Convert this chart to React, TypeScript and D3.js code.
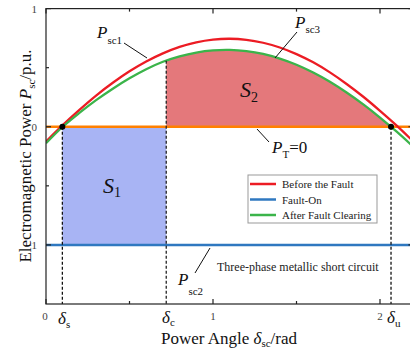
import React from "react";
import * as d3 from "d3";

const W = 410;
const H = 349;

// Power angle samples (rad)
const deltas = [0, 0.1, 0.2, 0.3, 0.4, 0.5, 0.6, 0.7, 0.8, 0.9, 1.0, 1.1, 1.2, 1.3, 1.4, 1.5, 1.6, 1.7, 1.8, 1.9, 2.0, 2.1, 2.2];
// Before the fault (Psc1)
const beforeFault = [-0.125, 0.014, 0.143, 0.264, 0.372, 0.469, 0.552, 0.621, 0.676, 0.715, 0.738, 0.745, 0.736, 0.711, 0.671, 0.615, 0.545, 0.46, 0.362, 0.254, 0.135, 0.01, -0.125];
// After fault clearing (Psc3)
const afterClearing = [-0.14, 0.0, 0.117, 0.225, 0.322, 0.41, 0.487, 0.55, 0.596, 0.628, 0.646, 0.65, 0.64, 0.616, 0.577, 0.525, 0.459, 0.381, 0.29, 0.189, 0.078, -0.042, -0.17];
// Fault-on (Psc2) and mechanical power PT
const faultOnLevel = -1;
const ptLevel = 0;
// Key angles
const deltaS = 0.098;
const deltaC = 0.72;
const deltaU = 2.066;

const xTicksMajor = [0, 1, 2];
const xTicksMinor = [0.5, 1.5];
const yTicksMajor = [-1, 0, 1];
const yTicksMinor = [-0.5, 0.5];

const legendItems = [
  { label: "Before the Fault", color: "#ec1c24" },
  { label: "Fault-On", color: "#2f78c0" },
  { label: "After Fault Clearing", color: "#3bb44a" },
];

const FONT = "'Liberation Serif', 'Times New Roman', Times, serif";

export default function App() {
  const left = 46, right = 413.4, top = 8.6, bottom = 304;
  const x = d3.scaleLinear().domain([0, 2.2]).range([left, right]);
  const y = d3.scaleLinear().domain([-1.5, 1]).range([bottom, top]);

  const redPts: [number, number][] = deltas.map((d, i) => [d, beforeFault[i]]);
  const greenPts: [number, number][] = deltas.map((d, i) => [d, afterClearing[i]]);

  const line = d3.line<[number, number]>().x((d) => x(d[0])).y((d) => y(d[1])).curve(d3.curveCatmullRom);
  const area = d3.area<[number, number]>().x((d) => x(d[0])).y0(y(0)).y1((d) => y(d[1])).curve(d3.curveCatmullRom);

  const interp = d3.scaleLinear().domain(deltas).range(afterClearing);
  const gC = interp(deltaC);

  const dash = "3,2";

  return (
    <svg width={W} height={H} style={{ position: "absolute", left: 0, top: 0, background: "#fff", fontFamily: FONT }}>
      <defs>
        <clipPath id="plot">
          <rect x={left} y={top} width={right - left} height={bottom - top} />
        </clipPath>
        <clipPath id="s2">
          <rect x={x(deltaC)} y={top} width={x(deltaU) - x(deltaC)} height={y(0) - top} />
        </clipPath>
      </defs>

      <g clipPath="url(#plot)">
        <rect x={x(deltaS)} y={y(0)} width={x(deltaC) - x(deltaS)} height={y(-1) - y(0)} fill="#a8b4f4" />
        <path d={area(greenPts) || ""} fill="#e4787b" clipPath="url(#s2)" />

        <line x1={left} x2={right} y1={y(ptLevel)} y2={y(ptLevel)} stroke="#ff8000" strokeWidth={2.5} />
        <line x1={left} x2={right} y1={y(faultOnLevel)} y2={y(faultOnLevel)} stroke="#2f78c0" strokeWidth={2.5} />

        <path d={line(redPts) || ""} fill="none" stroke="#ec1c24" strokeWidth={2.3} />
        <path d={line(greenPts) || ""} fill="none" stroke="#3bb44a" strokeWidth={2.3} />

        <line x1={x(deltaS)} x2={x(deltaS)} y1={y(0)} y2={bottom} stroke="#111" strokeWidth={1.3} strokeDasharray={dash} />
        <line x1={x(deltaC)} x2={x(deltaC)} y1={y(gC)} y2={bottom} stroke="#222" strokeWidth={1.3} strokeDasharray={dash} />
        <line x1={x(deltaU)} x2={x(deltaU)} y1={y(0)} y2={bottom} stroke="#111" strokeWidth={1.3} strokeDasharray={dash} />

        <circle cx={x(deltaS)} cy={y(0)} r={3} fill="#000" />
        <circle cx={x(deltaU)} cy={y(0)} r={3} fill="#000" />
      </g>

      <rect x={left} y={top} width={right - left} height={bottom - top} fill="none" stroke="#222" strokeWidth={1.2} />

      {xTicksMajor.map((t) => (
        <g key={"xM" + t}>
          <line x1={x(t)} x2={x(t)} y1={bottom} y2={bottom - 5} stroke="#222" strokeWidth={1.2} />
          <line x1={x(t)} x2={x(t)} y1={top} y2={top + 5} stroke="#222" strokeWidth={1.2} />
          <text x={x(t) - (t === 0 ? 1 : 0)} y={320} fontSize={11} textAnchor="middle" fill="#444">{t}</text>
        </g>
      ))}
      {xTicksMinor.map((t) => (
        <g key={"xm" + t}>
          <line x1={x(t)} x2={x(t)} y1={bottom} y2={bottom - 3} stroke="#222" strokeWidth={1.2} />
          <line x1={x(t)} x2={x(t)} y1={top} y2={top + 3} stroke="#222" strokeWidth={1.2} />
        </g>
      ))}
      {yTicksMajor.map((t) => (
        <g key={"yM" + t}>
          <line x1={left} x2={left + 5} y1={y(t)} y2={y(t)} stroke="#222" strokeWidth={1.2} />
          <line x1={right} x2={right - 5} y1={y(t)} y2={y(t)} stroke="#222" strokeWidth={1.2} />
          <text x={37} y={y(t) + 4} fontSize={11} textAnchor="end" fill="#444">{t < 0 ? "\u2212" + Math.abs(t) : t}</text>
        </g>
      ))}
      {yTicksMinor.map((t) => (
        <g key={"ym" + t}>
          <line x1={left} x2={left + 3} y1={y(t)} y2={y(t)} stroke="#222" strokeWidth={1.2} />
          <line x1={right} x2={right - 3} y1={y(t)} y2={y(t)} stroke="#222" strokeWidth={1.2} />
        </g>
      ))}

      <line x1={124} y1={43} x2={147} y2={58} stroke="#111" strokeWidth={1} />
      <text x={97} y={38} fontSize={17} fill="#111">
        <tspan fontStyle="italic">P</tspan>
        <tspan fontSize={11} dy={6}>sc1</tspan>
      </text>

      <line x1={297} y1={32} x2={275} y2={58} stroke="#111" strokeWidth={1} />
      <text x={295} y={28} fontSize={17} fill="#111">
        <tspan fontStyle="italic">P</tspan>
        <tspan fontSize={11} dy={5}>sc3</tspan>
      </text>

      <text x={240} y={97} fontSize={22} fill="#111">
        <tspan fontStyle="italic">S</tspan>
        <tspan fontSize={14} dy={5}>2</tspan>
      </text>
      <text x={103} y={193} fontSize={22} fill="#111">
        <tspan fontStyle="italic">S</tspan>
        <tspan fontSize={14} dy={4}>1</tspan>
      </text>

      <line x1={257} y1={129} x2={269} y2={142} stroke="#111" strokeWidth={1} />
      <text x={272} y={153} fontSize={17} fill="#111">
        <tspan fontStyle="italic">P</tspan>
        <tspan fontSize={11} dy={5}>T</tspan>
        <tspan dy={-5}>=0</tspan>
      </text>

      <line x1={210} y1={248} x2={195} y2={273} stroke="#111" strokeWidth={1} />
      <text x={178} y={285} fontSize={17} fill="#111">
        <tspan fontStyle="italic">P</tspan>
        <tspan fontSize={11} dy={10}>sc2</tspan>
      </text>
      <text x={217} y={271} fontSize={12} fill="#222">Three-phase metallic short circuit</text>

      <rect x={248} y={175} width={129} height={48} fill="#fff" stroke="#999" strokeWidth={1} />
      {legendItems.map((it, i) => (
        <g key={it.label}>
          <line x1={250} x2={276} y1={184 + i * 15.5} y2={184 + i * 15.5} stroke={it.color} strokeWidth={2.5} />
          <text x={282} y={188 + i * 15.5} fontSize={11} fill="#222">{it.label}</text>
        </g>
      ))}

      <text x={58} y={324} fontSize={17} fill="#111">
        <tspan fontStyle="italic">δ</tspan>
        <tspan fontSize={11} dy={4}>s</tspan>
      </text>
      <text x={162} y={323} fontSize={17} fill="#111">
        <tspan fontStyle="italic">δ</tspan>
        <tspan fontSize={11} dy={3}>c</tspan>
      </text>
      <text x={387} y={323} fontSize={17} fill="#111">
        <tspan fontStyle="italic">δ</tspan>
        <tspan fontSize={11} dy={4}>u</tspan>
      </text>

      <text x={229} y={344} fontSize={17} textAnchor="middle" fill="#111">
        Power Angle <tspan fontStyle="italic">δ</tspan>
        <tspan fontSize={11} dy={3}>sc</tspan>
        <tspan dy={-3}>/rad</tspan>
      </text>
      <text transform="translate(31,156) rotate(-90)" fontSize={17} textAnchor="middle" fill="#111">
        Electromagnetic Power <tspan fontStyle="italic">P</tspan>
        <tspan fontSize={11} dy={4}>sc</tspan>
        <tspan dy={-4}>/p.u.</tspan>
      </text>
    </svg>
  );
}
